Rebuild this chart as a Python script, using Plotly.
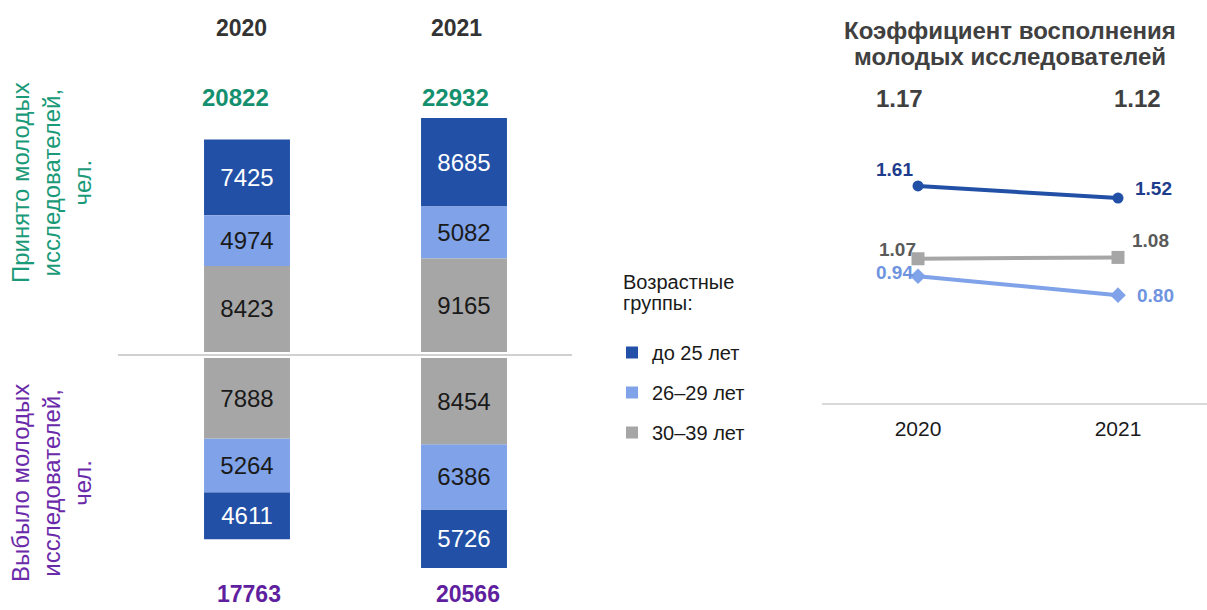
import numpy as np
import plotly.graph_objects as go

# ---------------- data ----------------
years = [2020, 2021]
groups = ["до 25 лет", "26–29 лет", "30–39 лет"]

hired_u25 = [7425, 8685]
hired_26_29 = [4974, 5082]
hired_30_39 = [8423, 9165]

left_u25 = [4611, 5726]
left_26_29 = [5264, 6386]
left_30_39 = [7888, 8454]

coef_total = [1.17, 1.12]
coef_u25 = [1.61, 1.52]
coef_26_29 = [0.94, 0.80]
coef_30_39 = [1.07, 1.08]

# ---------------- style ----------------
W, H = 1207, 610
FONT = "Liberation Sans, Arial, sans-serif"
C_DARK = "#2150A6"
C_LIGHT = "#7FA2E8"
C_GRAY = "#A6A6A6"
C_GREEN = "#15906F"
C_PURPLE = "#5F1F9E"


def px(x):
    return x / W


def py(y):
    return 1 - y / H


fig = go.Figure()

# ---------------- stacked diverging bars ----------------
gap = 300  # visual gap around zero line (data units)
hired = [np.array(hired_u25), np.array(hired_26_29), np.array(hired_30_39)]
left = [np.array(left_u25), np.array(left_26_29), np.array(left_30_39)]
colors = [C_DARK, C_LIGHT, C_GRAY]
txtcol = ["white", "#1a1a1a", "#1a1a1a"]

# stacking from zero outwards: 30-39, 26-29, до 25
order_from_zero = [2, 1, 0]
h_base = {}
l_base = {}
acc_h = np.zeros(2) + gap
acc_l = np.zeros(2) - gap
for gi in order_from_zero:
    h_base[gi] = acc_h.copy()
    l_base[gi] = acc_l.copy()
    acc_h = acc_h + hired[gi]
    acc_l = acc_l - left[gi]

for gi in range(3):
    xs = years + years
    ys = list(hired[gi]) + list(-left[gi])
    bases = list(h_base[gi]) + list(l_base[gi])
    texts = [str(v) for v in hired[gi]] + [str(v) for v in left[gi]]
    fig.add_trace(go.Bar(
        x=xs, y=ys, base=bases, width=0.396,
        marker=dict(color=colors[gi], line=dict(width=0)),
        text=texts, textposition="inside", insidetextanchor="middle",
        textangle=0,
        textfont=dict(family=FONT, size=24, color=txtcol[gi]),
        name=groups[gi], legendgroup=groups[gi],
        xaxis="x", yaxis="y", hoverinfo="skip",
    ))

# ---------------- lines ----------------
line_specs = [
    (coef_u25, C_DARK, "circle", 11),
    (coef_30_39, C_GRAY, "square", 13),
    (coef_26_29, C_LIGHT, "diamond", 12),
]
for vals, col, sym, sz in line_specs:
    fig.add_trace(go.Scatter(
        x=years, y=vals, mode="lines+markers",
        line=dict(color=col, width=4),
        marker=dict(symbol=sym, size=sz, color=col),
        xaxis="x2", yaxis="y2", showlegend=False, hoverinfo="skip",
    ))


def A(**kw):
    kw.setdefault("showarrow", False)
    kw.setdefault("xanchor", "center")
    kw.setdefault("yanchor", "middle")
    return kw


ann = []
# year headers for bars
for yr, xs in zip(years, [-6, -8]):
    ann.append(A(x=yr, y=py(28), xref="x", yref="paper", text=f"<b>{yr}</b>",
                 xshift=xs, font=dict(family=FONT, size=23, color="#333333")))
# totals
tot_h = sum(hired)
tot_l = sum(left)
for yr, v, xs in zip(years, tot_h, [-12, -9]):
    ann.append(A(x=yr, y=py(97), xref="x", yref="paper", text=f"<b>{v}</b>",
                 xshift=xs, font=dict(family=FONT, size=24, color=C_GREEN)))
for yr, v, xs in zip(years, tot_l, [2, 4]):
    ann.append(A(x=yr, y=py(594), xref="x", yref="paper", text=f"<b>{v}</b>",
                 xshift=xs, font=dict(family=FONT, size=23, color=C_PURPLE)))
# side titles
ann.append(A(x=px(51), y=py(183), xref="paper", yref="paper",
             text="Принято молодых<br>исследователей,<br>чел.", textangle=-90,
             align="center", font=dict(family=FONT, size=24, color="#1A9A78")))
ann.append(A(x=px(51), y=py(483), xref="paper", yref="paper",
             text="Выбыло молодых<br>исследователей,<br>чел.", textangle=-90,
             align="center", font=dict(family=FONT, size=24, color="#6A2AAA")))
# legend title
for txt, yy in [("Возрастные", 282), ("группы:", 303)]:
    ann.append(A(x=px(621), y=py(yy), xref="paper", yref="paper", xanchor="left",
                 text=txt, font=dict(family=FONT, size=20, color="#1a1a1a")))
# line chart title
for txt, yy in [("Коэффициент восполнения", 30), ("молодых исследователей", 57)]:
    ann.append(A(x=px(1010), y=py(yy), xref="paper", yref="paper",
                 text=f"<b>{txt}</b>",
                 font=dict(family=FONT, size=24, color="#404040")))
for yr, v, xs in zip(years, coef_total, [-19, 19]):
    ann.append(A(x=yr, y=py(98), xref="x2", yref="paper", text=f"<b>{v:.2f}</b>",
                 xshift=xs, font=dict(family=FONT, size=24, color="#404040")))
# point labels
lab_specs = [
    (coef_u25, "#1E3C8C", [(-24, 16), (35, 10)]),
    (coef_30_39, "#5A5A5A", [(-21, 9), (32, 17)]),
    (coef_26_29, "#6E94E0", [(-24, 4), (37, 0)]),
]
for vals, col, shifts in lab_specs:
    for yr, v, (xs, ys) in zip(years, vals, shifts):
        ann.append(A(x=yr, y=v, xref="x2", yref="y2", text=f"<b>{v:.2f}</b>",
                     xshift=xs, yshift=ys,
                     font=dict(family=FONT, size=19, color=col)))

zero_px = 355
upp = 98.0  # data units per pixel
fig.update_layout(
    width=W, height=H, margin=dict(l=0, r=0, t=0, b=0),
    paper_bgcolor="white", plot_bgcolor="white",
    barmode="overlay",
    font=dict(family=FONT),
    xaxis=dict(domain=[px(118), px(572)], range=[2019.4055, 2021.4977],
               visible=False, fixedrange=True),
    yaxis=dict(domain=[0, 1], range=[-(H - zero_px) * upp, zero_px * upp],
               showgrid=False, showticklabels=False, ticks="",
               zeroline=True, zerolinecolor="#D0D0D0", zerolinewidth=1.5),
    xaxis2=dict(domain=[px(822), 1], range=[2019.52, 2021.445], anchor="y2",
                showline=True, linecolor="#D9D9D9", linewidth=1.5,
                tickvals=years, ticktext=[str(y) for y in years], ticks="",
                ticklabelstandoff=6,
                tickfont=dict(family=FONT, size=21, color="#1a1a1a"),
                showgrid=False, zeroline=False),
    yaxis2=dict(domain=[1 - 403 / H, 1], range=[0, 403 / 134.8], anchor="x2",
                visible=False),
    showlegend=True,
    legend=dict(x=px(612), y=py(333), xanchor="left", yanchor="top",
                font=dict(family=FONT, size=20, color="#1a1a1a"),
                traceorder="grouped", tracegroupgap=11,
                bgcolor="rgba(0,0,0,0)"),
    annotations=ann,
)

fig.write_html("out.html",
               config={"displayModeBar": False},
               post_script="document.body.style.margin='0px';"
                           "document.body.style.overflow='hidden';")
